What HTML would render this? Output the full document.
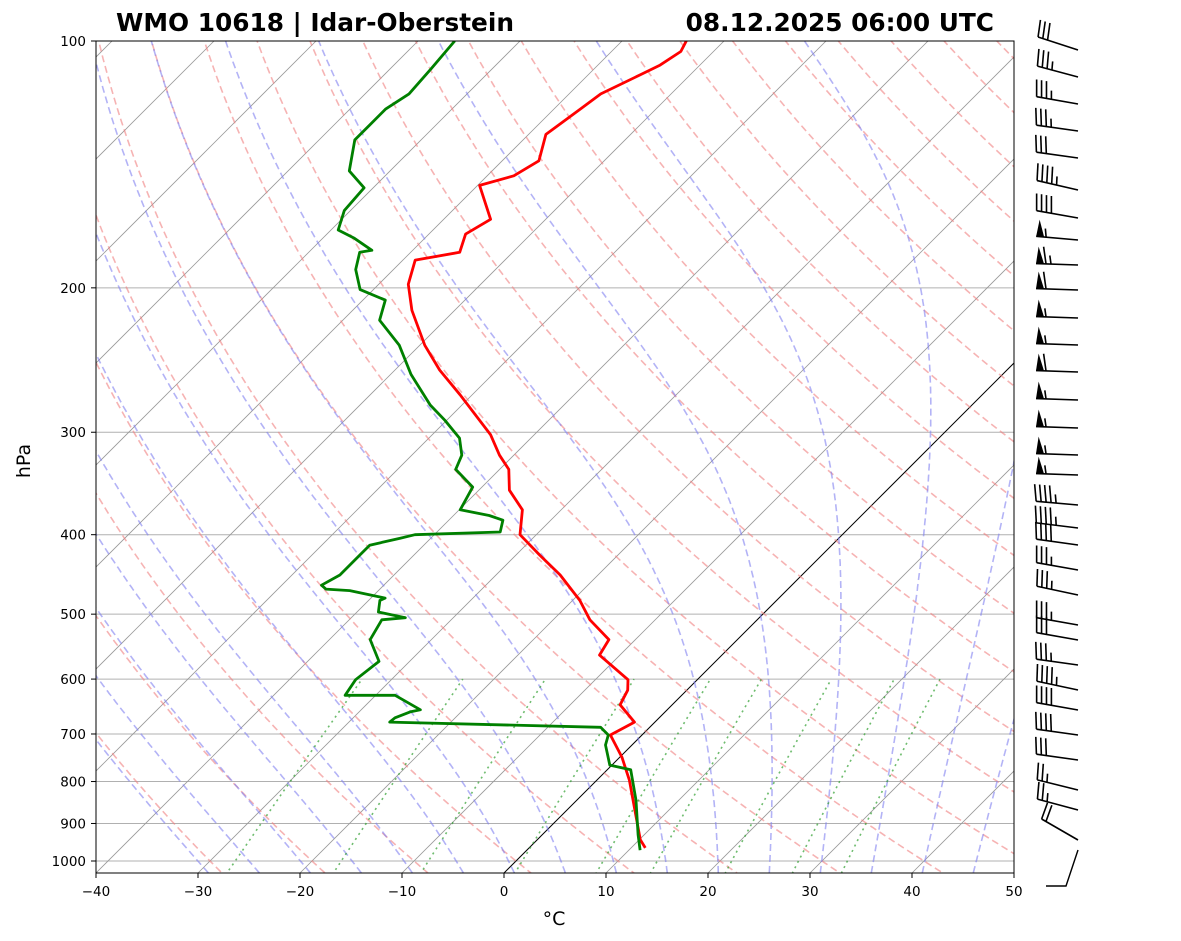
<!DOCTYPE html>
<html><head><meta charset="utf-8"><style>
body{margin:0;background:#fff;}
svg{display:block;font-family:"DejaVu Sans","Liberation Sans",sans-serif;}
</style></head><body>
<svg id="c" width="1181" height="941" viewBox="0 0 1181 941" xmlns="http://www.w3.org/2000/svg">
<defs><clipPath id="clip"><rect x="96" y="41" width="918" height="832"/></clipPath></defs>
<text x="116" y="31" font-size="24.8" font-weight="bold">WMO 10618 | Idar-Oberstein</text>
<text x="994" y="31" font-size="24.8" font-weight="bold" text-anchor="end">08.12.2025 06:00 UTC</text>
<g id="plot" clip-path="url(#clip)"></g>
<g id="axes"></g>
<g id="barbs"></g>
<text x="554" y="925" font-size="19" text-anchor="middle">°C</text>
<text transform="translate(30,461) rotate(-90)" font-size="19" text-anchor="middle">hPa</text>
</svg>
<script>
const tempP=[964,942,797,747,702,677,645,619,601,561,537,508,481,448,424,400,373,353,333,320,302,270,252,235,213,198,185,181,172,165,150,146,140,130,121,116,110,107,103,100];
const tempT=[11.4,10.1,3.2,0.2,-3.1,-2.0,-5.1,-5.8,-6.8,-12.0,-12.6,-16.4,-19.3,-23.7,-27.6,-31.6,-33.8,-37.0,-39.1,-41.4,-44.3,-51.2,-55.6,-59.5,-64.2,-67.1,-68.8,-65.2,-66.4,-65.4,-69.8,-67.4,-66.4,-68.3,-67.4,-66.9,-64.9,-63.9,-63.2,-63.7];
const dewP=[970,929,843,774,764,722,702,687,677,669,658,654,628,628,601,571,537,508,505,497,481,478,468,466,461,448,424,412,404,400,397,384,379,373,350,333,320,305,290,278,255,235,219,207,201,190,181,180,174,170,161,151,144,132,127,121,116,108,100];
const dewT=[11.1,9.4,5.8,2.3,-0.2,-2.6,-3.3,-4.8,-26.0,-25.9,-25.0,-24.2,-28.1,-33.0,-33.5,-33.0,-36.0,-36.8,-34.7,-37.9,-38.9,-38.6,-42.8,-45.3,-46.1,-45.3,-45.3,-45.3,-43.0,-41.9,-33.8,-34.7,-36.5,-39.9,-40.9,-44.3,-45.1,-47.0,-50.2,-53.1,-58.0,-62.0,-66.4,-67.8,-71.3,-73.7,-75.0,-74.0,-76.9,-79.3,-80.6,-80.9,-84.0,-86.5,-86.5,-86.5,-85.7,-86.0,-86.4];
const xTicks=[-40,-30,-20,-10,0,10,20,30,40,50];
const pTicks=[100,200,300,400,500,600,700,800,900,1000];
const barbY=[50,77,104,131,158,190,218,240,265,290,318,345,372,400,428,455,475,505,528,545,570,595,625,640,665,690,710,735,760,790,810,840];
const barbSpd=[30,35,35,35,30,45,40,55,65,60,55,55,60,55,55,55,55,45,45,40,35,35,35,30,35,45,40,40,30,25,25,20];
const barbDir=[288,285,280,278,278,283,280,275,272,272,272,272,272,272,272,272,272,275,277,278,280,282,280,280,278,282,280,278,278,284,285,300];

const NS="http://www.w3.org/2000/svg";
const X0=96,Y0=873,XS=10.2;
function yP(p){return 41+820*(Math.log10(p)-2);}
function xT(t,p){return X0+(t+40)*XS+(Y0-yP(p));}
function mk(tag,attrs,parent){const e=document.createElementNS(NS,tag);for(const k in attrs)e.setAttribute(k,attrs[k]);parent.appendChild(e);return e;}
const plot=document.getElementById('plot'),axes=document.getElementById('axes'),barbs=document.getElementById('barbs');
function path(pts){return pts.map((q,i)=>(i?'L':'M')+q[0].toFixed(1)+','+q[1].toFixed(1)).join('');}
const ps=[];for(let p=1100;p>=95;p-=5)ps.push(p);

pTicks.forEach(p=>{const l=mk('line',{x1:96,x2:1014,y1:yP(p),y2:yP(p),stroke:'#b0b0b0','stroke-width':1},plot);

});
for(let t=-120;t<=50;t+=10){const l=mk('path',{d:path([[xT(t,1100),yP(1100)],[xT(t,90),yP(90)]]),stroke:t===0?'#000':'#999','stroke-width':t===0?1:0.8,fill:'none'},plot);

}
for(let th=-30;th<200;th+=10){const K=th+273.15;const pts=ps.map(p=>[xT(K*Math.pow(p/1000,0.2857)-273.15,p),yP(p)]);
const l=mk('path',{d:path(pts),stroke:'#f08080','stroke-opacity':0.6,'stroke-width':1.6,'stroke-dasharray':'7,4',fill:'none'},plot);

}
function es(tc){return 6.112*Math.exp(17.67*tc/(tc+243.5));}
function dTdp(T,p){const e=es(T-273.15);const rs=0.622*e/(p-e);const Rd=287,Lv=2.501e6,Cp=1005;
return (Rd*T+Lv*rs)/(p*(Cp+Lv*Lv*rs*0.622/(Rd*T*T)));}
for(let t0=-30;t0<=45;t0+=5){let T=t0+1+273.15,p=1034;const pts=[];
while(p>=100){pts.push([xT(T-273.15,p),yP(p)]);const h=-2;const k1=dTdp(T,p),k2=dTdp(T+h/2*k1,p+h/2);T+=h*k2;p+=h;}
const l=mk('path',{d:path(pts),stroke:'#8080f0','stroke-opacity':0.6,'stroke-width':1.6,'stroke-dasharray':'7,4',fill:'none'},plot);

}
[0.0004,0.001,0.002,0.004,0.007,0.01,0.016,0.024,0.032].forEach(w=>{const pts=[];for(let p=1100;p>=600;p-=10){const e=p*w/(0.622+w);const L=Math.log(e/6.112);const td=243.5*L/(17.67-L);pts.push([xT(td,p),yP(p)]);}
const l=mk('path',{d:path(pts),stroke:'#30a030','stroke-opacity':0.7,'stroke-width':1.6,'stroke-dasharray':'2,4',fill:'none'},plot);

});
const tl=mk('path',{d:path(tempP.map((p,i)=>[xT(tempT[i],p),yP(p)])),stroke:'#ff0000','stroke-width':2.8,fill:'none','stroke-linejoin':'round'},plot);


const dl=mk('path',{d:path(dewP.map((p,i)=>[xT(dewT[i],p),yP(p)])),stroke:'#008000','stroke-width':2.8,fill:'none','stroke-linejoin':'round'},plot);


const fr=mk('rect',{x:96,y:41,width:918,height:832,fill:'none',stroke:'#000','stroke-width':1},axes);


xTicks.forEach(t=>{const x=X0+(t+40)*XS;mk('line',{x1:x,x2:x,y1:873,y2:878,stroke:'#000'},axes);
const tx=mk('text',{x:x,y:896,'font-size':13.5,'text-anchor':'middle'},axes);tx.textContent=(t<0?'−'+(-t):t);

});
pTicks.forEach(p=>{const y=yP(p);mk('line',{x1:91,x2:96,y1:y,y2:y,stroke:'#000'},axes);
const tx=mk('text',{x:86,y:y+5,'font-size':13.5,'text-anchor':'end'},axes);tx.textContent=p;

});
function barb(y,spd,dir){const bx=1078,L=42,r=dir*Math.PI/180;const ux=Math.sin(r),uy=-Math.cos(r);const px=-uy,py=ux;
const tx=bx+L*ux,ty=y+L*uy;const g=mk('g',{},barbs);


mk('line',{x1:bx,y1:y,x2:tx,y2:ty,stroke:'#000','stroke-width':1.6},g);
let s=Math.round(spd/5)*5,pos=0;const FL=17,sp=5;
while(s>=50){const a=[tx-ux*pos,ty-uy*pos],b=[tx-ux*(pos+8),ty-uy*(pos+8)],c=[a[0]+px*FL-ux*2,a[1]+py*FL-uy*2];
mk('polygon',{points:`${a[0]},${a[1]} ${c[0]},${c[1]} ${b[0]},${b[1]}`,fill:'#000'},g);pos+=10;s-=50;}
while(s>=10){const a=[tx-ux*pos,ty-uy*pos];mk('line',{x1:a[0],y1:a[1],x2:a[0]+px*FL+ux*3,y2:a[1]+py*FL+uy*3,stroke:'#000','stroke-width':1.6},g);pos+=sp;s-=10;}
if(s>=5){if(pos===0)pos=sp;const a=[tx-ux*pos,ty-uy*pos];mk('line',{x1:a[0],y1:a[1],x2:a[0]+px*FL/2+ux*1.5,y2:a[1]+py*FL/2+uy*1.5,stroke:'#000','stroke-width':1.6},g);}}
barbY.forEach((y,i)=>barb(y,barbSpd[i],barbDir[i]));
const lb=mk('path',{d:'M1078,850 L1066,886 L1046,886',stroke:'#000','stroke-width':1.4,fill:'none'},barbs);


</script>
</body></html>
